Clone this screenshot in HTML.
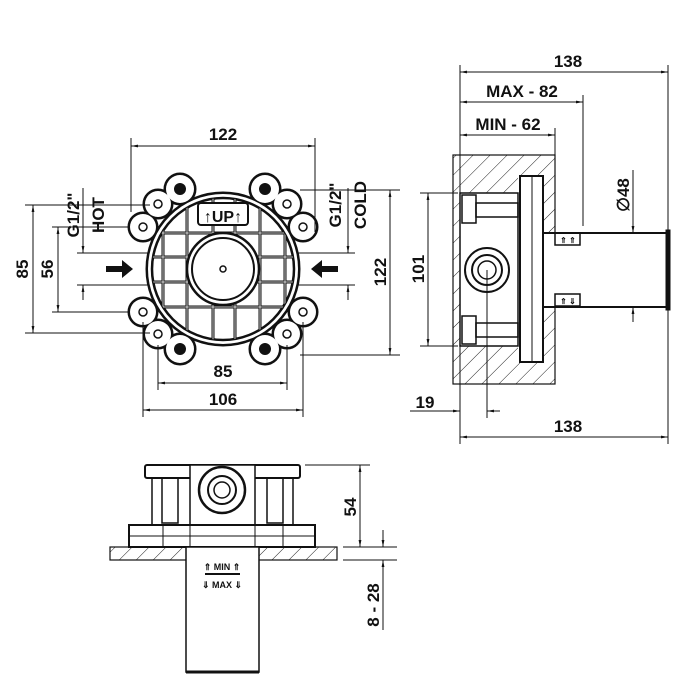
<!DOCTYPE html>
<html><head><style>body{margin:0;background:#fff}svg{display:block}text{font-family:"Liberation Sans",Arial,sans-serif;font-weight:bold;fill:#111}</style></head><body>
<svg width="700" height="700" viewBox="0 0 700 700" xmlns="http://www.w3.org/2000/svg">
<defs>
<marker id="a" viewBox="0 0 10 10" refX="10" refY="5" markerWidth="9" markerHeight="7" orient="auto-start-reverse"><path d="M0,3 L10,5 L0,7z" fill="#111"/></marker>
<pattern id="h" width="12" height="12" patternUnits="userSpaceOnUse" patternTransform="rotate(45)"><line x1="0" y1="0" x2="0" y2="12" stroke="#222" stroke-width="1"/></pattern>
<clipPath id="cc"><circle cx="223" cy="269" r="71"/></clipPath>
</defs>
<g stroke="#111" fill="none" stroke-width="1">
<!-- FRONT VIEW merged lobes -->
<g stroke-width="5" fill="#111">
<circle cx="143" cy="227" r="13"/><circle cx="158" cy="204" r="13"/><circle cx="303" cy="227" r="13"/><circle cx="287" cy="204" r="13"/>
<circle cx="143" cy="312" r="13"/><circle cx="158" cy="334" r="13"/><circle cx="303" cy="312" r="13"/><circle cx="287" cy="334" r="13"/>
<circle cx="180" cy="189" r="14"/><circle cx="265" cy="189" r="14"/><circle cx="180" cy="349" r="14"/><circle cx="265" cy="349" r="14"/>
<circle cx="223" cy="269" r="75"/>
</g>
<g stroke="none" fill="#fff">
<circle cx="143" cy="227" r="13"/><circle cx="158" cy="204" r="13"/><circle cx="303" cy="227" r="13"/><circle cx="287" cy="204" r="13"/>
<circle cx="143" cy="312" r="13"/><circle cx="158" cy="334" r="13"/><circle cx="303" cy="312" r="13"/><circle cx="287" cy="334" r="13"/>
<circle cx="180" cy="189" r="14"/><circle cx="265" cy="189" r="14"/><circle cx="180" cy="349" r="14"/><circle cx="265" cy="349" r="14"/>
<circle cx="223" cy="269" r="75"/>
</g>
<g fill="#111" stroke="none"><circle cx="180" cy="189" r="6"/><circle cx="265" cy="189" r="6"/><circle cx="180" cy="349" r="6"/><circle cx="265" cy="349" r="6"/></g>
<g stroke-width="1.5"><circle cx="143" cy="227" r="4"/><circle cx="158" cy="204" r="4"/><circle cx="303" cy="227" r="4"/><circle cx="287" cy="204" r="4"/><circle cx="143" cy="312" r="4"/><circle cx="158" cy="334" r="4"/><circle cx="303" cy="312" r="4"/><circle cx="287" cy="334" r="4"/></g>
<circle cx="223" cy="269" r="71" stroke-width="2.5"/>
<g clip-path="url(#cc)" stroke-width="3">
<line x1="163" y1="180" x2="163" y2="360"/><line x1="187" y1="180" x2="187" y2="360"/><line x1="213" y1="180" x2="213" y2="360"/><line x1="235" y1="180" x2="235" y2="360"/><line x1="260" y1="180" x2="260" y2="360"/><line x1="285" y1="180" x2="285" y2="360"/>
<line x1="140" y1="233" x2="310" y2="233"/><line x1="140" y1="257" x2="310" y2="257"/><line x1="140" y1="282" x2="310" y2="282"/><line x1="140" y1="307" x2="310" y2="307"/>
</g>
<g clip-path="url(#cc)" stroke="#fff" stroke-width="0.8">
<line x1="163" y1="180" x2="163" y2="360"/><line x1="187" y1="180" x2="187" y2="360"/><line x1="213" y1="180" x2="213" y2="360"/><line x1="235" y1="180" x2="235" y2="360"/><line x1="260" y1="180" x2="260" y2="360"/><line x1="285" y1="180" x2="285" y2="360"/>
<line x1="140" y1="233" x2="310" y2="233"/><line x1="140" y1="257" x2="310" y2="257"/><line x1="140" y1="282" x2="310" y2="282"/><line x1="140" y1="307" x2="310" y2="307"/>
</g>
<circle cx="223" cy="269" r="36" fill="#fff" stroke-width="2.5"/>
<circle cx="223" cy="269" r="31" stroke-width="2"/>
<circle cx="223" cy="269" r="3" stroke-width="1.5"/>
<rect x="198" y="203" width="50" height="22" rx="3" fill="#fff" stroke-width="2"/>
<path d="M106,266 h16 v-6 l11,9 l-11,9 v-6 h-16z" fill="#111" stroke="none"/>
<path d="M338,266 h-16 v-6 l-11,9 l11,9 v-6 h16z" fill="#111" stroke="none"/>
<line x1="131" y1="138" x2="131" y2="212"/><line x1="315" y1="138" x2="315" y2="232"/>
<line x1="131" y1="146" x2="315" y2="146" marker-start="url(#a)" marker-end="url(#a)"/>
<line x1="158" y1="345" x2="158" y2="390"/><line x1="287" y1="345" x2="287" y2="390"/>
<line x1="158" y1="383" x2="287" y2="383" marker-start="url(#a)" marker-end="url(#a)"/>
<line x1="143" y1="322" x2="143" y2="417"/><line x1="303" y1="322" x2="303" y2="417"/>
<line x1="143" y1="410" x2="303" y2="410" marker-start="url(#a)" marker-end="url(#a)"/>
<line x1="25" y1="205" x2="150" y2="205"/><line x1="25" y1="333" x2="150" y2="333"/>
<line x1="33" y1="205" x2="33" y2="333" marker-start="url(#a)" marker-end="url(#a)"/>
<line x1="52" y1="227" x2="130" y2="227"/><line x1="52" y1="312" x2="130" y2="312"/>
<line x1="58" y1="227" x2="58" y2="312" marker-start="url(#a)" marker-end="url(#a)"/>
<line x1="77" y1="253" x2="148" y2="253"/><line x1="77" y1="285" x2="148" y2="285"/>
<line x1="83" y1="188" x2="83" y2="253" marker-end="url(#a)"/><line x1="83" y1="300" x2="83" y2="285" marker-end="url(#a)"/>
<line x1="300" y1="190" x2="400" y2="190"/><line x1="300" y1="355" x2="400" y2="355"/>
<line x1="390" y1="190" x2="390" y2="355" marker-start="url(#a)" marker-end="url(#a)"/>
<line x1="298" y1="253" x2="355" y2="253"/><line x1="298" y1="285" x2="355" y2="285"/>
<line x1="348" y1="188" x2="348" y2="253" marker-end="url(#a)"/><line x1="348" y1="300" x2="348" y2="285" marker-end="url(#a)"/>

<!-- SIDE VIEW -->
<rect x="453" y="155" width="102" height="229" fill="url(#h)" stroke-width="1.2"/>
<path d="M460,193 H518 V176 H543 V233 H555 V307 H543 V362 H518 V346 H460 Z" fill="#fff" stroke="none"/>
<rect x="460" y="193" width="58" height="153" stroke-width="1.5"/>
<rect x="520" y="176" width="23" height="186" stroke-width="2"/>
<line x1="532" y1="176" x2="532" y2="362"/>
<rect x="543" y="233" width="125" height="74" fill="#fff" stroke-width="2"/>
<rect x="666" y="230" width="4" height="80" fill="#111"/>
<circle cx="487" cy="270" r="22" stroke-width="2"/><circle cx="487" cy="270" r="15" stroke-width="2"/><circle cx="487" cy="270" r="9" stroke-width="1.5"/>
<rect x="462" y="195" width="14" height="28" stroke-width="1.5"/><rect x="476" y="203" width="42" height="14" stroke-width="1.5"/>
<rect x="462" y="316" width="14" height="28" stroke-width="1.5"/><rect x="476" y="323" width="42" height="14" stroke-width="1.5"/>
<line x1="460" y1="65" x2="460" y2="444"/><line x1="668" y1="65" x2="668" y2="444"/>
<line x1="583" y1="95" x2="583" y2="226"/><line x1="555" y1="128" x2="555" y2="155"/>
<line x1="460" y1="72" x2="668" y2="72" marker-start="url(#a)" marker-end="url(#a)"/>
<line x1="460" y1="102" x2="583" y2="102" marker-start="url(#a)" marker-end="url(#a)"/>
<line x1="460" y1="135" x2="555" y2="135" marker-start="url(#a)" marker-end="url(#a)"/>
<line x1="420" y1="193" x2="458" y2="193"/><line x1="420" y1="346" x2="458" y2="346"/>
<line x1="428" y1="193" x2="428" y2="346" marker-start="url(#a)" marker-end="url(#a)"/>
<line x1="487" y1="270" x2="487" y2="418"/>
<line x1="410" y1="411" x2="460" y2="411" marker-end="url(#a)"/><line x1="500" y1="411" x2="487" y2="411" marker-end="url(#a)"/>
<line x1="460" y1="437" x2="668" y2="437" marker-start="url(#a)" marker-end="url(#a)"/>
<line x1="633" y1="170" x2="633" y2="233" marker-end="url(#a)"/><line x1="633" y1="322" x2="633" y2="307" marker-end="url(#a)"/>
<g stroke-width="1.5"><rect x="555" y="233" width="25" height="12"/><rect x="555" y="294" width="25" height="12"/></g>

<!-- BOTTOM VIEW -->
<rect x="145" y="465" width="155" height="13" rx="2" fill="#fff" stroke-width="2"/>
<rect x="152" y="478" width="141" height="47" stroke-width="1.5"/>
<rect x="190" y="465" width="65" height="60" fill="#fff" stroke-width="1.5"/>
<circle cx="222" cy="490" r="23" stroke-width="2.5"/><circle cx="222" cy="490" r="14" stroke-width="2"/><circle cx="222" cy="490" r="8" stroke-width="1.5"/>
<rect x="162" y="478" width="16" height="45" stroke-width="1.5"/><rect x="267" y="478" width="16" height="45" stroke-width="1.5"/>
<rect x="129" y="525" width="186" height="22" fill="#fff" stroke-width="2"/>
<line x1="129" y1="536" x2="315" y2="536"/>
<line x1="163" y1="525" x2="163" y2="547"/><line x1="190" y1="525" x2="190" y2="547"/><line x1="255" y1="525" x2="255" y2="547"/><line x1="283" y1="525" x2="283" y2="547"/>
<rect x="110" y="547" width="227" height="13" fill="url(#h)" stroke-width="1.2"/>
<rect x="186" y="547" width="73" height="125" fill="#fff" stroke-width="1.5"/>
<line x1="186" y1="672" x2="259" y2="672" stroke-width="3"/>
<line x1="205" y1="574" x2="240" y2="574" stroke-width="2"/>
<line x1="305" y1="465" x2="370" y2="465"/><line x1="343" y1="547" x2="397" y2="547"/><line x1="343" y1="560" x2="397" y2="560"/>
<line x1="360" y1="465" x2="360" y2="547" marker-start="url(#a)" marker-end="url(#a)"/>
<line x1="383" y1="530" x2="383" y2="547" marker-end="url(#a)"/><line x1="383" y1="630" x2="383" y2="560" marker-end="url(#a)"/>
</g>
<g font-size="17">
<text x="223" y="140" text-anchor="middle">122</text>
<text x="223" y="377" text-anchor="middle">85</text>
<text x="223" y="405" text-anchor="middle">106</text>
<text transform="translate(28,269) rotate(-90)" text-anchor="middle">85</text>
<text transform="translate(53,269) rotate(-90)" text-anchor="middle">56</text>
<text transform="translate(79,215) rotate(-90)" text-anchor="middle">G1/2"</text>
<text transform="translate(104,215) rotate(-90)" text-anchor="middle">HOT</text>
<text transform="translate(341,205) rotate(-90)" text-anchor="middle">G1/2"</text>
<text transform="translate(366,205) rotate(-90)" text-anchor="middle">COLD</text>
<text transform="translate(386,272) rotate(-90)" text-anchor="middle">122</text>
<text x="568" y="67" text-anchor="middle">138</text>
<text x="522" y="97" text-anchor="middle">MAX - 82</text>
<text x="508" y="130" text-anchor="middle">MIN - 62</text>
<text transform="translate(424,269) rotate(-90)" text-anchor="middle">101</text>
<text x="425" y="408" text-anchor="middle">19</text>
<text x="568" y="432" text-anchor="middle">138</text>
<text transform="translate(629,195) rotate(-90)" text-anchor="middle" font-weight="normal">∅<tspan font-weight="bold">48</tspan></text>
<text transform="translate(356,507) rotate(-90)" text-anchor="middle">54</text>
<text transform="translate(379,605) rotate(-90)" text-anchor="middle">8 - 28</text>
</g>
<text x="223" y="222" text-anchor="middle" font-size="16">↑UP↑</text>
<text x="222" y="570" text-anchor="middle" font-size="9">⇑ MIN ⇑</text>
<text x="222" y="588" text-anchor="middle" font-size="9">⇓ MAX ⇓</text>
<text x="568" y="243" text-anchor="middle" font-size="8">⇑ ⇑</text>
<text x="568" y="304" text-anchor="middle" font-size="8">⇑ ⇓</text>
</svg>
</body></html>
